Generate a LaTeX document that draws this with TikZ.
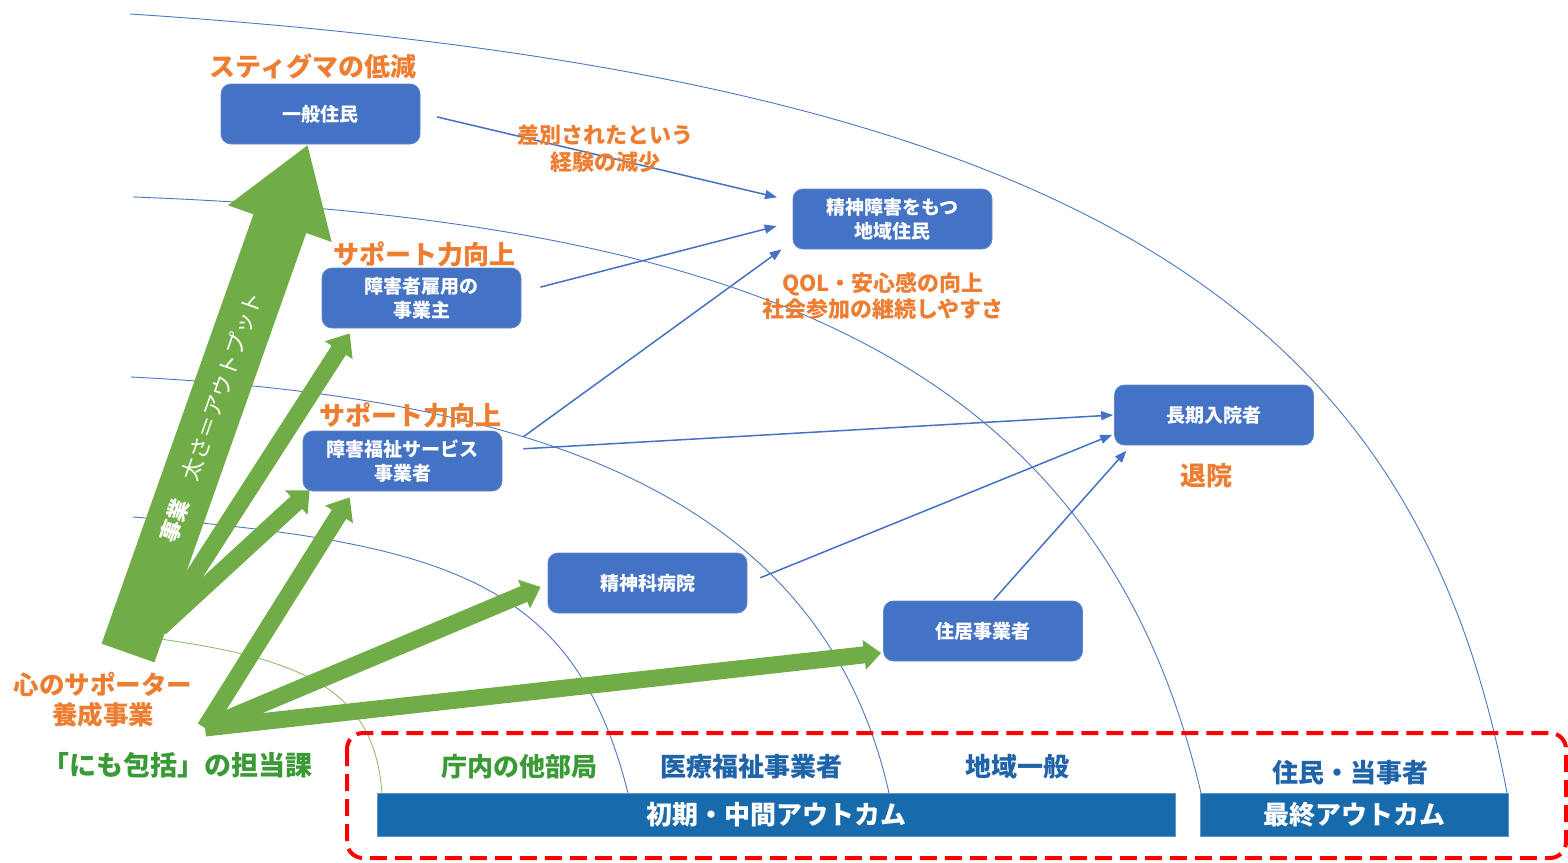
\documentclass[tikz,border=0pt]{standalone}
\usepackage{fontspec}
\setmainfont{Noto Sans CJK JP}
\usetikzlibrary{arrows.meta,calc}
\definecolor{boxblue}{HTML}{4472C4}
\definecolor{barblue}{HTML}{176AAC}
\definecolor{lorange}{HTML}{ED7D31}
\definecolor{agreen}{HTML}{70AD47}
\definecolor{tgreen}{HTML}{3A9B36}
\definecolor{tblue}{HTML}{1F63A8}
\definecolor{arcblue}{HTML}{4A78C0}
\definecolor{dashred}{HTML}{FF0000}
\newcommand\fsz[2]{\fontsize{#1}{#2}\selectfont}
\newcommand\greenarrow[5]{%
  \fill[agreen] let \p1=(#1), \p2=(#2), \n1={atan2(\y2-\y1,\x2-\x1)} in
    ($(\p1)+({\n1+90}:#3pt)$) --
    ($(\p2)+({\n1+180}:#5pt)+({\n1+90}:#3pt)$) --
    ($(\p2)+({\n1+180}:#5pt)+({\n1+90}:#4pt)$) --
    (\p2) --
    ($(\p2)+({\n1+180}:#5pt)+({\n1-90}:#4pt)$) --
    ($(\p2)+({\n1+180}:#5pt)+({\n1-90}:#3pt)$) --
    ($(\p1)+({\n1-90}:#3pt)$) -- cycle;}
\tikzset{
  bluebox/.style={fill=boxblue, draw=boxblue!85!white, line width=0.8pt, rounded corners=10pt,
    minimum width=199pt, minimum height=60pt, inner sep=0pt, align=center, text=white,
    font=\fsz{19}{24}\bfseries},
  bar/.style={fill=barblue, draw=barblue!70!white, line width=0.8pt, minimum height=43pt,
    inner sep=0pt, text=white, font=\fsz{26}{30}\bfseries},
  olabel/.style={inner sep=0pt, text=lorange, align=center},
  glabel/.style={inner sep=0pt, text=tgreen, font=\fsz{26}{30}\bfseries},
  blabel/.style={inner sep=0pt, text=tblue, font=\fsz{26}{30}\bfseries},
  arcline/.style={draw=arcblue, line width=0.9pt},
  conn/.style={draw=boxblue, line width=1.5pt, -{Triangle[length=12pt,width=9pt]}},
}
\begin{document}
\begin{tikzpicture}[x=1pt,y=-1pt]
\useasboundingbox (0,0) rectangle (1568,862);

% arcs
\draw[arcline] (130,14) .. controls (1080,75.8) and (1416.3,308) .. (1507,793);
\draw[arcline] (133,197) .. controls (773,220.7) and (1101.9,373) .. (1201,793);
\draw[arcline] (131,377) .. controls (551,398) and (823.7,503) .. (889,793);
\draw[arcline] (133,517) .. controls (453,542.6) and (574.7,583) .. (628,793);
\draw[draw=agreen!80!white, line width=0.9pt] (160,639) .. controls (310,660) and (374.3,693) .. (382,793);

% boxes
\node[bluebox] (ippan) at (320.5,114) {一般住民};
\node[bluebox] (koyo) at (421.5,298) {障害者雇用の\\事業主};
\node[bluebox] (fukushi) at (402.5,461) {障害福祉サービス\\事業者};
\node[bluebox] (seishin) at (892.5,219) {精神障害をもつ\\地域住民};
\node[bluebox] (chouki) at (1214,415) {長期入院者};
\node[bluebox] (byoin) at (647.5,583) {精神科病院};
\node[bluebox] (jukyo) at (983,631) {住居事業者};

% arrow origins
\coordinate (bigbase) at (128,653);
\coordinate (fanA) at (160,628);
\coordinate (fanB) at (205,728);

% green arrows
\greenarrow{fanA}{$(koyo.south west)+(28,5)$}{8.5}{16.5}{20}
\greenarrow{fanA}{$(fukushi.south west)+(7,-1)$}{8.5}{16.5}{18}
\greenarrow{bigbase}{$(ippan.south)+(-13,1)$}{28}{55}{83}
\greenarrow{fanB}{$(fukushi.south west)+(47,6)$}{8.5}{16.5}{20}
\greenarrow{fanB}{$(byoin.west)+(-7,4)$}{8.5}{15.5}{18}
\greenarrow{fanB}{$(jukyo.west)+(-2,22)$}{8.5}{15}{17}

\node[rotate=70.6, inner sep=0pt, text=white, font=\fsz{22}{26}] (bigtxt) at (211,417) {{\bfseries 事業}　太さ＝アウトプット};

% blue connectors
\draw[conn, shorten <=17pt, shorten >=16pt] ($(ippan.east)+(0,-1)$) -- ($(seishin.west)+(0,-18)$);
\draw[conn, shorten <=19.6pt, shorten >=16.5pt] ($(koyo.east)+(0,-6)$) -- ($(seishin.west)+(0,3)$);
\draw[conn, shorten <=26pt, shorten >=13.6pt] ($(fukushi.east)+(0,-9)$) -- ($(seishin.south west)+(0,-8)$);
\draw[conn, shorten <=21pt, shorten >=1pt] ($(fukushi.east)+(0,-11)$) -- (chouki.west);
\draw[conn, shorten <=14pt, shorten >=2pt] (byoin.east) -- ($(chouki.west)+(0,19)$);
\draw[conn, shorten <=1pt, shorten >=7pt] ($(jukyo.north)+(10,0)$) -- ($(chouki.south west)+(17,0)$);

% orange labels
\node[olabel, font=\fsz{26}{30}\bfseries] (stigma) at (313,66) {スティグマの低減};
\node[olabel, font=\fsz{26}{30}\bfseries] (sup1) at (424,254) {サポート力向上};
\node[olabel, font=\fsz{26}{30}\bfseries] (sup2) at (410,415) {サポート力向上};
\node[olabel, font=\fsz{22}{27}\bfseries] (sabetsu) at (605,148.5) {差別されたという\\経験の減少};
\node[olabel, font=\fsz{22}{26}\bfseries] (qol) at (883,296) {QOL・安心感の向上\\社会参加の継続しやすさ};
\node[olabel, font=\fsz{26}{30}\bfseries] (taiin) at (1206,476) {退院};
\node[olabel, font=\fsz{25.5}{30}\bfseries] (kokoro) at (103,700) {心のサポーター\\養成事業};
\node[glabel, font=\fsz{27}{30}\bfseries] (nimo) at (177,765) {「にも包括」の担当課};

% bottom area
\draw[dashred, line width=4pt, dash pattern=on 17pt off 8pt, rounded corners=16pt] (347,733) rectangle (1566,858);
\node[bar, minimum width=798pt] (bar1) at (776,814.5) {初期・中間アウトカム};
\node[bar, minimum width=308pt] (bar2) at (1354,814.5) {最終アウトカム};
\node[glabel] (chounai) at (519,767) {庁内の他部局};
\node[blabel] (iryo) at (751,767) {医療福祉事業者};
\node[blabel] (chiiki) at (1017,767) {地域一般};
\node[blabel] (jumin) at (1350,773) {住民・当事者};
\end{tikzpicture}
\end{document}
